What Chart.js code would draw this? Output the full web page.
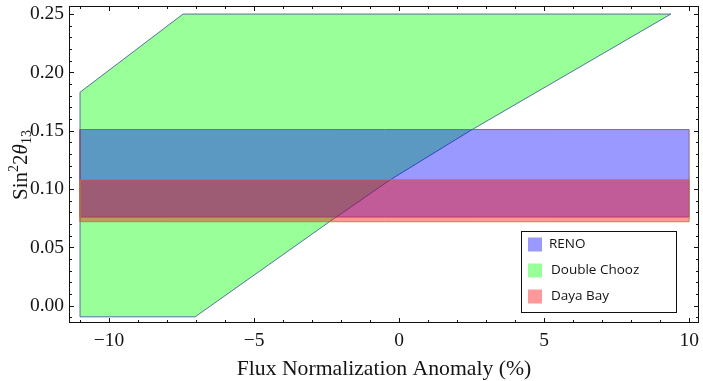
<!DOCTYPE html>
<html>
<head>
<meta charset="utf-8">
<script src="https://cdn.jsdelivr.net/npm/chart.js@4/dist/chart.umd.min.js"></script>
<style>
html,body{margin:0;padding:0;background:#fff;}
#wrap{width:703px;height:381px;position:relative;}
</style>
</head>
<body>
<div id="wrap"><canvas id="c" width="703" height="381"></canvas></div>
<script>
// ---- Data ----
const seriesNames = ["RENO", "Double Chooz", "Daya Bay"];
// Double Chooz allowed region (closed polygon)
const doubleChoozX = [-11, -7.45, 9.37, 2.45, -0.3, -2.4, -7.03, -11, -11];
const doubleChoozY = [0.183, 0.25, 0.25, 0.15, 0.108, 0.072, -0.0095, -0.0095, 0.183];
// RENO band
const renoX = [-11, 10, 10, -11, -11];
const renoY = [0.076, 0.076, 0.151, 0.151, 0.076];
// Daya Bay band
const dayaBayX = [-11, 10, 10, -11, -11];
const dayaBayY = [0.072, 0.072, 0.108, 0.108, 0.072];
// Axes
const xMin = -11.38, xMax = 10.34;
const yMin = -0.0148, yMax = 0.2569;
const xTitle = "Flux Normalization Anomaly (%)";

const pts = (xs, ys) => xs.map((x, i) => ({x: x, y: ys[i]}));

const SERIF = "'Liberation Serif', 'Times New Roman', serif";
const TXT = "#141414";

const framePlugin = {
  id: 'frameTicks',
  afterDraw(chart) {
    const ctx = chart.ctx, a = chart.chartArea;
    const xs = chart.scales.x, ys = chart.scales.y;
    ctx.save();
    ctx.strokeStyle = "#111";
    ctx.lineWidth = 1;
    ctx.strokeRect(Math.round(a.left) + 0.5, Math.round(a.top) + 0.5,
                   Math.round(a.right - a.left) - 1, Math.round(a.bottom - a.top) - 1);
    ctx.beginPath();
    xs.ticks.forEach(t => {
      const v = t.value;
      if (Math.abs(v - Math.round(v)) > 1e-6) return;
      const len = (Math.round(v) % 5 === 0) ? 5 : 3;
      const px = Math.round(xs.getPixelForValue(v)) + 0.5;
      ctx.moveTo(px, a.bottom); ctx.lineTo(px, a.bottom - len);
      ctx.moveTo(px, a.top); ctx.lineTo(px, a.top + len);
    });
    ys.ticks.forEach(t => {
      const v = t.value * 100;
      if (Math.abs(v - Math.round(v)) > 1e-6) return;
      const len = (Math.round(v) % 5 === 0) ? 5 : 3;
      const py = Math.round(ys.getPixelForValue(t.value)) + 0.5;
      ctx.moveTo(a.left, py); ctx.lineTo(a.left + len, py);
      ctx.moveTo(a.right, py); ctx.lineTo(a.right - len, py);
    });
    ctx.stroke();

    // x-axis title
    ctx.fillStyle = TXT;
    ctx.font = "21.7px " + SERIF;
    ctx.textAlign = "center";
    ctx.textBaseline = "alphabetic";
    ctx.fillText(xTitle, (a.left + a.right) / 2, 375);

    // y-axis title: Sin^2 2θ_13
    ctx.save();
    ctx.translate(27, 165);
    ctx.rotate(-Math.PI / 2);
    const big = "21px " + SERIF, small = "14px " + SERIF, ital = "italic 21px " + SERIF;
    const parts = [
      {t: "Sin", f: big, dy: 0},
      {t: "2", f: small, dy: -9},
      {t: "2", f: big, dy: 0},
      {t: "\u03B8", f: ital, dy: 0},
      {t: "13", f: small, dy: 4}
    ];
    let total = 0;
    parts.forEach(p => { ctx.font = p.f; p.w = ctx.measureText(p.t).width; total += p.w; });
    let cx = -total / 2;
    ctx.textAlign = "left";
    parts.forEach(p => { ctx.font = p.f; ctx.fillText(p.t, cx, p.dy); cx += p.w; });
    ctx.restore();

    // Legend
    ctx.fillStyle = "#fff";
    ctx.fillRect(521, 231, 155, 81);
    ctx.strokeStyle = "#111";
    ctx.strokeRect(521.5, 231.5, 155, 81);
    const legendColors = ["#9999ff", "#99ff99", "#ff9999"];
    const rowsY = [244.5, 270.5, 296.5];
    ctx.font = "13.5px 'Open Sans', 'Noto Sans', sans-serif";
    ctx.textAlign = "left";
    ctx.textBaseline = "middle";
    seriesNames.forEach((n, i) => {
      ctx.fillStyle = legendColors[i];
      ctx.fillRect(528, rowsY[i] - 7, 14, 14);
      ctx.fillStyle = TXT;
      ctx.fillText(n, i === 0 ? 549 : 551, rowsY[i]);
    });
    ctx.restore();
  }
};

new Chart(document.getElementById('c'), {
  type: 'scatter',
  data: {
    datasets: [
      {
        label: seriesNames[0], data: pts(renoX, renoY), order: 2,
        showLine: true, fill: 'shape', tension: 0, pointRadius: 0,
        backgroundColor: 'rgba(0,0,255,0.4)', borderColor: 'rgba(125,85,130,0.85)', borderWidth: 1
      },
      {
        label: seriesNames[1], data: pts(doubleChoozX, doubleChoozY), order: 3,
        showLine: true, fill: 'shape', tension: 0, pointRadius: 0,
        backgroundColor: 'rgba(0,255,0,0.4)', borderColor: 'rgba(70,100,150,0.9)', borderWidth: 1
      },
      {
        label: seriesNames[2], data: pts(dayaBayX, dayaBayY), order: 1,
        showLine: true, fill: 'shape', tension: 0, pointRadius: 0,
        backgroundColor: 'rgba(255,0,0,0.4)', borderColor: 'rgba(180,120,70,0.85)', borderWidth: 1
      }
    ]
  },
  options: {
    responsive: false,
    animation: false,
    layout: {padding: {top: 6, right: 4, left: 0, bottom: 0}},
    plugins: {legend: {display: false}, tooltip: {enabled: false}},
    scales: {
      x: {
        type: 'linear', min: xMin, max: xMax,
        grid: {display: false, drawTicks: false},
        border: {display: false},
        ticks: {
          stepSize: 1, autoSkip: false, maxRotation: 0, padding: 6, includeBounds: false,
          color: TXT, font: {family: SERIF, size: 19.5},
          callback: v => {
            const r = Math.round(v);
            if (Math.abs(v - r) > 1e-6 || r % 5 !== 0) return '';
            return r < 0 ? '\u2212' + Math.abs(r) : String(r);
          }
        },
        afterFit: s => { s.height = 58; s.paddingLeft = 0; s.paddingRight = 0; }
      },
      y: {
        type: 'linear', min: yMin, max: yMax,
        grid: {display: false, drawTicks: false},
        border: {display: false},
        ticks: {
          stepSize: 0.01, autoSkip: false, padding: 5, includeBounds: false,
          color: TXT, font: {family: SERIF, size: 19.5},
          callback: v => {
            const r = Math.round(v * 100);
            if (Math.abs(v * 100 - r) > 1e-6 || r % 5 !== 0) return '';
            return (r / 100).toFixed(2);
          }
        },
        afterFit: s => { s.width = 69; s.paddingTop = 0; s.paddingBottom = 0; }
      }
    }
  },
  plugins: [framePlugin]
});
</script>
</body>
</html>
